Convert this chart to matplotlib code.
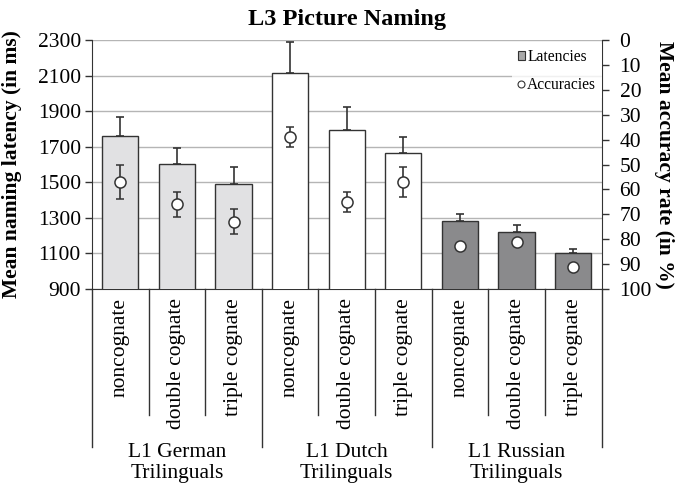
import numpy as np
import matplotlib
matplotlib.use('Agg')
import matplotlib.pyplot as plt
import matplotlib.transforms as mtransforms
from matplotlib.lines import Line2D
from matplotlib.patches import Patch

# Times-like serif font
plt.rcParams['font.family'] = ['Liberation Serif', 'DejaVu Serif']

# data
conditions = ['noncognate', 'double cognate', 'triple cognate'] * 3
groups = ['L1 German\nTrilinguals', 'L1 Dutch\nTrilinguals', 'L1 Russian\nTrilinguals']
latency = [1763, 1600, 1493, 2112, 1793, 1662, 1283, 1221, 1101]
latency_se = [105, 92, 94, 177, 128, 92, 41, 40, 26]
accuracy = [57.0, 65.9, 73.0, 39.0, 65.1, 57.0, 82.7, 81.0, 91.0]
accuracy_se = [7.0, 5.0, 5.0, 4.0, 4.0, 6.0, 1.0, 1.0, 1.0]
group_colors = ['#e1e1e3', '#ffffff', '#8a8a8c']

dark = '#333333'
x = np.arange(len(latency))
bar_colors = [group_colors[i // 3] for i in range(len(latency))]

fig = plt.figure(figsize=(6.81, 4.86), dpi=100)
ax = fig.add_axes([92 / 681, 1 - 289 / 486, 509.5 / 681, 249 / 486])

# latency bars with upward error bars
ax.errorbar(x, latency, yerr=[np.zeros(len(latency)), latency_se], fmt='none',
            ecolor=dark, elinewidth=1.2, capsize=3, capthick=1.2, zorder=2)
ax.bar(x, latency, width=0.64, color=bar_colors, edgecolor=dark, linewidth=1, zorder=3)
ax.set_xlim(-0.5, 8.5)
ax.set_ylim(900, 2300)
ax.set_yticks(range(900, 2301, 200))
ax.yaxis.grid(True, color='#b5b5b5', linewidth=1)
ax.set_axisbelow(True)
ax.set_xticks([])
ax.tick_params(axis='y', direction='out', length=5, width=1, color=dark, pad=3, labelsize=15.5)
for s in ['top', 'right']:
    ax.spines[s].set_visible(False)
for s in ['left', 'bottom']:
    ax.spines[s].set_color(dark)
ax.set_ylabel('Mean naming latency (in ms)', fontsize=15.5, fontweight='bold')
ax.yaxis.set_label_coords(-0.137, 0.5)

# accuracy on the inverted right axis
ax2 = ax.twinx()
ax2.errorbar(x, accuracy, yerr=accuracy_se, fmt='o', ms=8, mfc='white', mec=dark, mew=1.1,
             ecolor=dark, elinewidth=1.2, capsize=3, capthick=1.2, zorder=4)
ax2.set_ylim(100, 0)
ax2.set_yticks(range(0, 101, 10))
ax2.tick_params(axis='y', direction='out', length=5, width=1, color=dark, pad=8, labelsize=15.5)
for s in ['top', 'left', 'bottom']:
    ax2.spines[s].set_visible(False)
ax2.spines['right'].set_color(dark)
ax2.set_ylabel('Mean accuracy rate (in %)', fontsize=15.5, fontweight='bold', rotation=-90, va='center')
ax2.yaxis.set_label_coords(1.122, 0.5)

# category axis drawn by hand: separators and labels below the bars
trans = mtransforms.blended_transform_factory(ax.transData, ax.transAxes)
for i in range(len(conditions) + 1):
    end = -0.635 if i % 3 == 0 else -0.506
    ax.add_line(Line2D([i - 0.5, i - 0.5], [0, end], transform=trans, color=dark,
                       linewidth=1, clip_on=False))
for i, c in enumerate(conditions):
    ax.text(i, -0.036, c, transform=trans, rotation=90, ha='center', va='top', fontsize=15.5)
for g, name in enumerate(groups):
    ax.text(g * 3 + 1, -0.70, name, transform=trans, ha='center', va='center',
            fontsize=15.5, linespacing=1.15, multialignment='center')

# legend
handles = [Patch(facecolor='#a8a8a8', edgecolor=dark, linewidth=0.8),
           Line2D([], [], marker='o', linestyle='none', ms=5, mfc='white', mec=dark, mew=0.8)]
leg = ax2.legend(handles, ['Latencies', 'Accuracies'], loc='upper right',
                 bbox_to_anchor=(1.0, 0.985), fontsize=11.2, handlelength=0.45,
                 handleheight=0.45, handletextpad=0.15, labelspacing=0.75,
                 borderpad=0.35, borderaxespad=0.0, frameon=True, fancybox=False)
leg.get_frame().set_facecolor('white')
leg.get_frame().set_edgecolor('none')

fig.text(347 / 681, 1 - 20 / 486, 'L3 Picture Naming', ha='center', va='center',
         fontsize=17.5, fontweight='bold')

fig.savefig('out.png', dpi=100)
